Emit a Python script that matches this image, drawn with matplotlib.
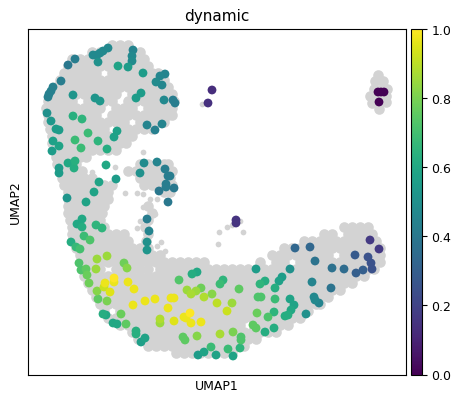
import matplotlib
matplotlib.use('Agg')
import matplotlib.pyplot as plt
import numpy as np

# embedding, one row of the grey cloud per line
rows = [
    (46, [112, 120, 128]),
    (53, [92, 100, 108, 116, 124, 132, 140]),
    (60, [72, 80, 88, 96, 104, 112, 120, 128, 136, 144]),
    (67, [68, 76, 84, 92, 100, 108, 116, 124, 132, 140, 148]),
    (74, [64, 72, 80, 88, 96, 112, 120, 128, 136, 144, 152, 158]),
    (81, [60, 68, 76, 84, 92, 100, 108, 116, 124, 132, 140, 148, 156, 164]),
    (88, [56, 64, 72, 80, 88, 96, 104, 112, 120, 128, 136, 144, 152, 160, 168]),
    (95, [52, 60, 68, 76, 84, 92, 100, 108, 116, 132, 140, 148, 156, 164, 172]),
    (102, [48, 56, 64, 72, 88, 96, 104, 112, 128, 136, 144, 152, 160, 168, 174]),
    (109, [46, 52, 60, 68, 76, 84, 92, 100, 116, 124, 132, 148, 156, 164, 172]),
    (116, [48, 56, 64, 72, 80, 88, 96, 112, 120, 128, 136, 144, 152, 160, 168, 172]),
    (123, [48, 52, 60, 68, 76, 84, 92, 100, 108, 116, 124, 140, 148, 156, 164]),
    (130, [50, 56, 64, 72, 80, 88, 96, 104, 120, 128, 136, 144, 152]),
    (137, [52, 60, 68, 76, 84, 92, 100, 108, 116, 124, 132]),
    (144, [52, 56, 64, 72, 80, 88, 96, 104, 112, 120, 126]),
    (151, [54, 60, 68, 76, 84, 92, 100, 108, 116]),
    (158, [56, 64, 72, 80, 86]),
    (165, [57, 60, 68, 76, 140, 148, 156, 164, 168]),
    (172, [60, 68, 76, 82, 128, 136, 144, 152, 160, 168, 172]),
    (179, [62, 68, 76, 84, 92, 140, 148, 156, 164, 170]),
    (186, [64, 72, 80, 88, 96, 104, 112, 144, 152, 160, 168, 172]),
    (193, [68, 76, 84, 92, 100, 108, 164, 170]),
    (200, [68, 72, 80, 88, 96, 104, 108]),
    (207, [68, 76, 84, 92, 100, 104, 148]),
    (214, [68, 72, 80, 88, 96, 102, 152]),
    (221, [70, 76, 84, 92, 100, 148]),
    (228, [72, 80, 88, 96, 104, 145, 344, 352, 360, 368]),
    (235, [72, 76, 84, 92, 100, 108, 116, 124, 148, 324, 332, 348, 356, 364, 372]),
    (242, [72, 80, 88, 96, 104, 112, 120, 128, 146, 304, 312, 320, 328, 336, 344, 352,
           360, 368, 376]),
    (249, [76, 84, 92, 100, 108, 116, 124, 132, 140, 148, 284, 292, 300, 308, 316, 324,
           332, 340, 348, 356, 364, 372, 380]),
    (256, [80, 88, 96, 104, 112, 120, 128, 136, 144, 152, 160, 272, 280, 288, 296, 304,
           312, 320, 328, 344, 352, 360, 368, 376, 380]),
    (263, [84, 92, 100, 108, 116, 124, 132, 140, 148, 156, 164, 172, 180, 188, 196, 204,
           260, 276, 284, 300, 308, 316, 324, 332, 340, 348, 356, 364, 372, 380]),
    (270, [84, 92, 100, 116, 124, 132, 140, 148, 160, 168, 176, 184, 192, 200, 208, 216,
           224, 232, 240, 248, 256, 264, 272, 280, 288, 296, 304, 312, 320, 328, 336,
           344, 352, 360, 368, 374]),
    (277, [84, 92, 100, 108, 116, 124, 132, 140, 148, 156, 164, 172, 180, 188, 196, 204,
           212, 220, 228, 236, 244, 252, 260, 268, 276, 284, 292, 300, 308, 316, 324,
           332, 340, 348, 356, 364]),
    (284, [88, 96, 104, 112, 120, 128, 136, 144, 152, 160, 168, 176, 184, 192, 200, 208,
           216, 224, 232, 240, 248, 256, 264, 272, 280, 288, 296, 304, 312, 320, 328,
           336, 344, 352]),
    (291, [92, 100, 108, 116, 124, 132, 140, 148, 156, 164, 172, 180, 188, 196, 204, 212,
           220, 228, 236, 244, 252, 260, 268, 276, 284, 292, 300, 308, 316, 324, 332,
           340]),
    (298, [96, 104, 112, 120, 128, 136, 144, 152, 160, 168, 176, 184, 192, 200, 208, 216,
           224, 232, 240, 248, 256, 264, 272, 280, 288, 296, 304, 312, 320, 328]),
    (305, [100, 108, 116, 124, 132, 140, 148, 156, 164, 172, 180, 188, 196, 204, 212, 220,
           228, 236, 244, 252, 260, 268, 276, 284, 292, 300, 308, 316, 320]),
    (312, [104, 120, 128, 136, 144, 152, 160, 168, 176, 184, 192, 200, 208, 216, 224, 232,
           240, 248, 256, 264, 272, 280, 288, 296, 304, 308]),
    (319, [108, 116, 124, 132, 140, 148, 156, 164, 172, 180, 188, 196, 204, 212, 220, 228,
           236, 244, 252, 260, 268, 276, 284, 292, 300]),
    (326, [120, 128, 136, 144, 152, 160, 168, 176, 184, 192, 200, 208, 216, 224, 232, 240,
           256, 264, 272, 280, 288]),
    (333, [132, 140, 148, 156, 164, 172, 180, 188, 196, 204, 212, 220, 228, 236, 244, 252,
           260, 268, 276]),
    (340, [138, 144, 152, 160, 168, 176, 184, 192, 200, 208, 216, 224, 232, 240, 248, 256]),
    (347, [148, 156, 164, 172, 180, 188, 196, 204, 212, 220, 228, 236, 244]),
    (354, [176, 184, 192, 200, 208, 216, 224, 232]),
]

# the small island top right
island_x = [378, 375, 383, 374, 382, 387, 370, 378, 386, 372, 380, 386, 379]
island_y = [76, 82, 82, 90, 90, 90, 97, 97, 97, 104, 104, 103, 110]

# lone grey cells
stray_x = [92, 115, 125, 137, 143, 150, 157, 143, 155, 140, 137, 157, 165, 143, 219, 243,
           218, 227, 232, 202, 131, 161, 240]
stray_y = [173, 168, 194, 194, 195, 200, 200, 208, 215, 222, 229, 247, 252, 153, 233, 233,
           245, 228, 226, 105, 172, 243, 222]

# coloured cells and their dynamic value
cell_x = [108, 103, 100, 93, 97, 75, 68, 133, 132, 132, 98, 118, 128, 143, 165, 160, 156, 162,
          61, 53, 51, 49, 48, 73, 95, 100, 141, 136, 164, 173, 175, 47, 51, 73, 82, 162, 147,
          155, 56, 59, 117, 114, 88, 75, 98, 53, 59, 81, 107, 52, 68, 75, 74, 106, 59, 59,
          144, 157, 140, 165, 170, 168, 116, 99, 166, 166, 174, 159, 94, 67, 86, 168,
          212, 208, 147, 149, 147, 147, 82, 77, 82, 96, 102, 84, 90, 71, 76, 80, 107, 97, 79,
          124, 127, 96, 86, 81, 87, 114, 114, 105, 128, 104, 89, 134, 110, 97, 98, 107, 145,
          155, 133, 171, 174, 168, 121, 103, 106, 160, 160, 113, 117, 126, 174, 184, 186, 190,
          191, 201, 136, 136, 145, 141, 183, 185, 197, 220, 179, 192, 197, 223, 220, 187, 191,
          196, 201, 212, 204, 217, 227, 211, 204, 198, 216, 228,
          236, 236, 239, 232, 233, 241, 241, 240, 233, 256, 290, 295, 310, 315, 332, 344, 355,
          370, 379, 368, 371, 372, 363, 356, 331, 312, 282, 279, 265, 260, 275, 258, 261, 275,
          290, 314, 315, 319, 294, 291, 288, 285, 306, 274, 257, 268, 253, 256, 274, 265,
          378, 381, 384, 379]
cell_y = [49, 52, 54, 56, 56, 60, 66, 51, 57, 62, 63, 67, 68, 74, 75, 77, 83, 86,
          82, 88, 92, 95, 98, 96, 99, 102, 94, 99, 101, 101, 104, 114, 122, 117, 120, 125, 126,
          131, 130, 131, 132, 138, 134, 141, 142, 142, 147, 149, 150, 152, 164, 162, 169, 166,
          169, 174, 164, 163, 174, 170, 177, 177, 180, 183, 185, 188, 189, 192, 193, 199, 203,
          203, 91, 104, 220, 232, 243, 251, 220, 225, 228, 226, 229, 237, 241, 243, 248, 250,
          257, 260, 264, 264, 269, 270, 270, 271, 276, 279, 283, 284, 283, 288, 284, 290, 293,
          292, 300, 302, 302, 300, 306, 299, 299, 309, 315, 315, 316, 320, 324, 324, 325, 325,
          322, 318, 319, 314, 324, 323, 332, 335, 339, 343, 338, 341, 337, 335, 281, 275, 273,
          281, 285, 291, 295, 292, 289, 295, 298, 304, 312, 348, 353, 356, 356, 350,
          221, 224, 290, 304, 333, 338, 341, 349, 357, 270, 270, 249, 248, 262, 269, 270, 256,
          241, 250, 258, 264, 270, 271, 274, 289, 283, 278, 282, 282, 285, 289, 298, 298, 300,
          300, 298, 301, 304, 306, 311, 316, 317, 315, 313, 314, 318, 326, 329, 329, 333,
          93, 93, 93, 103]
cell_v = [.47, .47, .47, .47, .47, .42, .40, .45, .47, .48, .50, .58, .55, .55, .45, .46, .48, .46,
          .42, .43, .43, .43, .43, .52, .52, .53, .55, .55, .47, .42, .42, .50, .53, .63, .65, .45, .45,
          .43, .55, .55, .57, .57, .68, .68, .65, .57, .58, .68, .62, .55, .60, .63, .62, .60, .55, .55,
          .48, .45, .50, .42, .42, .42, .55, .58, .42, .42, .40, .40, .58, .52, .58, .40,
          .13, .14, .42, .45, .50, .52, .60, .60, .62, .65, .65, .68, .72, .62, .67, .70,
          .85, .85, .72, .78, .82, .85, .75, .72, .77, 1.0, .97, .97, .97, .92, .78, .97, .95,
          .82, .75, .80, .97, .97, .97, .97, .97, .97, .77, .62, .60, .88, .85, .60, .60, .75,
          .95, .97, .97, 1.0, .97, .97, .63, .63, .58, .56, .75, .75, .82, .87, .73, .62, .60,
          .65, .68, .85, .87, .85, .78, .82, .88, .90, .92, .68, .58, .55, .58, .68,
          .15, .15, .75, .85, .80, .72, .72, .65, .58, .55, .50, .33, .33, .38, .37, .35, .28,
          .17, .17, .25, .25, .25, .30, .30, .38, .45, .55, .57, .62, .65, .62, .72, .72, .68,
          .58, .47, .47, .45, .58, .60, .62, .62, .50, .65, .77, .72, .75, .75, .62, .62,
          .0, .0, .0, .0]

grey = '#d3d3d3'
w, h = 458, 402

grey_x = [x for y, xs in rows for x in xs] + island_x
grey_y = [y for y, xs in rows for x in xs] + island_y

fig = plt.figure(figsize=(w / 100, h / 100), dpi=100)
ax = fig.add_axes([27.5 / w, 1 - 375.5 / h, (406 - 27.5) / w, (375.5 - 29.5) / h])
ax.scatter(grey_x, grey_y, s=58, c=grey, linewidths=0)
ax.scatter(stray_x, stray_y, s=17, c=grey, linewidths=0)

order = np.argsort(cell_v)
sc = ax.scatter(np.array(cell_x)[order], np.array(cell_y)[order], c=np.array(cell_v)[order],
                s=40, cmap='viridis', vmin=0, vmax=1, linewidths=0)

ax.set_xlim(27.5, 406)
ax.set_ylim(375.5, 29.5)
ax.set_xticks([])
ax.set_yticks([])
ax.set_xlabel('UMAP1', fontsize=9, labelpad=3)
ax.set_ylabel('UMAP2', fontsize=9, labelpad=4)
ax.set_title('dynamic', fontsize=11, pad=6)

cax = fig.add_axes([410.5 / w, 1 - 375.5 / h, 11 / w, (375.5 - 29.5) / h])
fig.colorbar(sc, cax=cax, ticks=[0, .2, .4, .6, .8, 1])
cax.tick_params(labelsize=9)

fig.savefig('out.png', dpi=100)
